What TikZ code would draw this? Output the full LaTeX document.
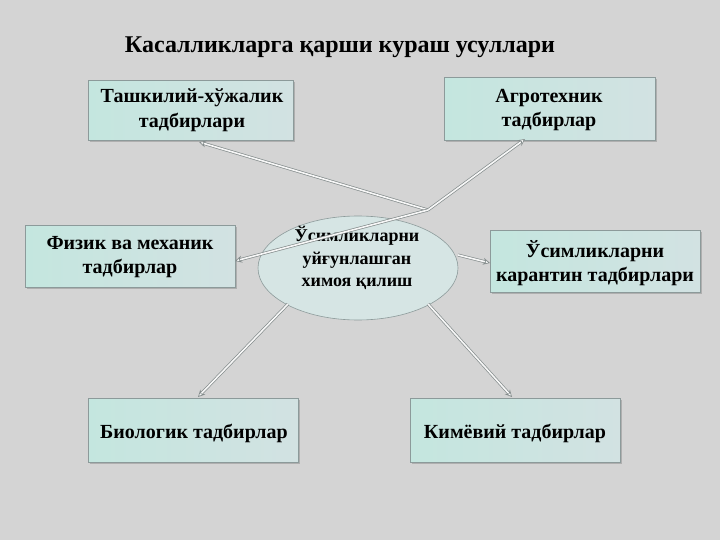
\documentclass[tikz,border=0pt]{standalone}
\usepackage{fontspec}
\setmainfont{Liberation Serif}
\usetikzlibrary{shapes.geometric,arrows.meta,shadows}
\definecolor{bg}{HTML}{D4D4D4}
\definecolor{boxa}{HTML}{C4E6DF}
\definecolor{boxb}{HTML}{D2E2E2}
\definecolor{boxline}{HTML}{8C9A9A}
\definecolor{ellfill}{HTML}{D6E5E4}
\definecolor{arrline}{HTML}{848C8C}
\tikzset{
  mbox/.style={draw=boxline, line width=0.6pt, left color=boxa, right color=boxb,
    anchor=north west, inner sep=0pt,
    drop shadow={shadow xshift=1.5pt, shadow yshift=-1.5pt, fill=gray!70, opacity=0.8}},
  btxt/.style={font=\bfseries\fontsize{20}{24.5}\selectfont, align=center, inner sep=0pt},
  conn/.style={draw=arrline, double=white!94!gray, double distance=1.6pt, line width=0.7pt,
    -{Stealth[length=7pt,width=7pt,open,fill=white]}},
}
\begin{document}
\begin{tikzpicture}[x=1pt,y=-1pt]
\useasboundingbox (0,0) rectangle (720,540);
\fill[bg] (0,0) rectangle (720,540);
\node[font=\bfseries\fontsize{24}{28}\selectfont, inner sep=0pt] (title) at (340,47) {Касалликларга қарши кураш усуллари};
% ellipse
\node[ellipse, draw=boxline, line width=0.6pt, fill=ellfill, minimum width=200, minimum height=104, inner sep=0pt] (ell) at (358,268) {};
\node[font=\bfseries\fontsize{18}{22.5}\selectfont, align=center, inner sep=0pt] (etxt) at (357,258) {Ўсимликларни\\уйғунлашган\\химоя қилиш};
% boxes
\node[mbox, minimum width=205, minimum height=60] (b1) at (88,80) {};
\node[btxt] (l1) at (192,110) {Ташкилий-хўжалик\\тадбирлари};
\node[mbox, minimum width=211, minimum height=63] (b2) at (444,77) {};
\node[btxt] (l2) at (549,110) {Агротехник\\тадбирлар};
\node[mbox, minimum width=210, minimum height=62] (b3) at (25,225) {};
\node[btxt] (l3) at (130,257) {Физик ва механик\\тадбирлар};
\node[mbox, minimum width=210, minimum height=62] (b4) at (490,230) {};
\node[btxt] (l4) at (595,263) {Ўсимликларни\\карантин тадбирлари};
\node[mbox, minimum width=210, minimum height=64] (b5) at (88,398) {};
\node[btxt] (l5) at (194,433) {Биологик тадбирлар};
\node[mbox, minimum width=210, minimum height=64] (b6) at (410,398) {};
\node[btxt] (l6) at (515,433) {Кимёвий тадбирлар};
% connectors
\coordinate (hub) at (428,210);
\coordinate (t1) at (199,142);
\coordinate (t2) at (525,139);
\coordinate (t3) at (235,261);
\coordinate (t4) at (490,263);
\coordinate (t5) at (198,397);
\coordinate (t6) at (512,397);
\coordinate (s4) at (458,255);
\coordinate (s5) at (288,304);
\coordinate (s6) at (428,304);
\draw[conn] (hub) -- (t1);
\draw[conn] (hub) -- (t2);
\draw[conn] (hub) -- (t3);
\draw[conn] (s4) -- (t4);
\draw[conn] (s5) -- (t5);
\draw[conn] (s6) -- (t6);
\end{tikzpicture}
\end{document}
